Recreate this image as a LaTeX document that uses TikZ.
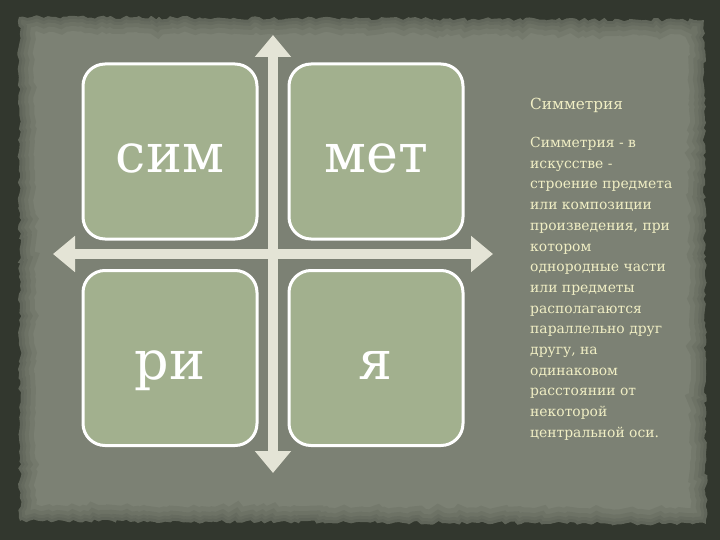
\documentclass[tikz,border=0pt]{standalone}
\usepackage{fontspec}
\setmainfont{DejaVu Serif}
\usetikzlibrary{arrows.meta,decorations.pathmorphing}

\definecolor{framedark}{RGB}{50,55,46}
\definecolor{slate}{RGB}{124,129,116}
\definecolor{tilegreen}{RGB}{162,176,142}
\definecolor{axisgray}{RGB}{228,228,214}
\definecolor{cream}{RGB}{240,238,196}

\tikzset{
  torn/.style={decorate, decoration={random steps, segment length=4pt, amplitude=1.8pt}}
}

\begin{document}
\begin{tikzpicture}[
  x=1pt, y=-1pt,
  syl/.style={draw=white, line width=3pt, fill=tilegreen, rounded corners=22pt,
    minimum width=174pt, minimum height=175pt, inner sep=0pt,
    text=white, font=\fontsize{54}{54}\selectfont, text height=42pt, text depth=0pt},
  axis/.style={draw=axisgray, line width=10pt,
    {Triangle[width=35pt,length=22pt]}-{Triangle[width=35pt,length=22pt]}},
  note/.style={text=cream, inner sep=0pt, align=left}
]
\useasboundingbox (0,0) rectangle (720,540);

% backdrop
\fill[framedark] (0,0) rectangle (720,540);
\pgfmathsetseed{7}
\fill[slate, torn] (19,17) -- (704,20) -- (706,524) -- (20,521) -- cycle;
\foreach \w in {6,12,20,30} {
  \pgfmathsetseed{7}
  \draw[framedark, opacity=0.1, line width=\w pt, torn]
    (19,17) -- (704,20) -- (706,524) -- (20,521) -- cycle;
}

% axes
\coordinate (vtop) at (273,35);
\coordinate (vbot) at (273,473);
\coordinate (hleft) at (53,254);
\coordinate (hright) at (493,254);
\draw[axis] (vtop) -- (vbot);
\draw[axis] (hleft) -- (hright);

% syllables
\node[syl] (sim) at (170,151.5) {сим};
\node[syl] (met) at (376,151.5) {мет};
\node[syl] (ri) at (170,358) {ри};
\node[syl] (ya) at (376,358) {я};

% text
\node[note, anchor=base west, font=\fontsize{15.3}{20}\selectfont] (title) at (530,110) {Симметрия};
\node[note, anchor=north west, font=\fontsize{13.9}{20.7}\selectfont] (body) at (530,137) {%
Симметрия - в\\
искусстве -\\
строение предмета\\
или композиции\\
произведения, при\\
котором\\
однородные части\\
или предметы\\
располагаются\\
параллельно друг\\
другу, на\\
одинаковом\\
расстоянии от\\
некоторой\\
центральной оси.};
\end{tikzpicture}
\end{document}
